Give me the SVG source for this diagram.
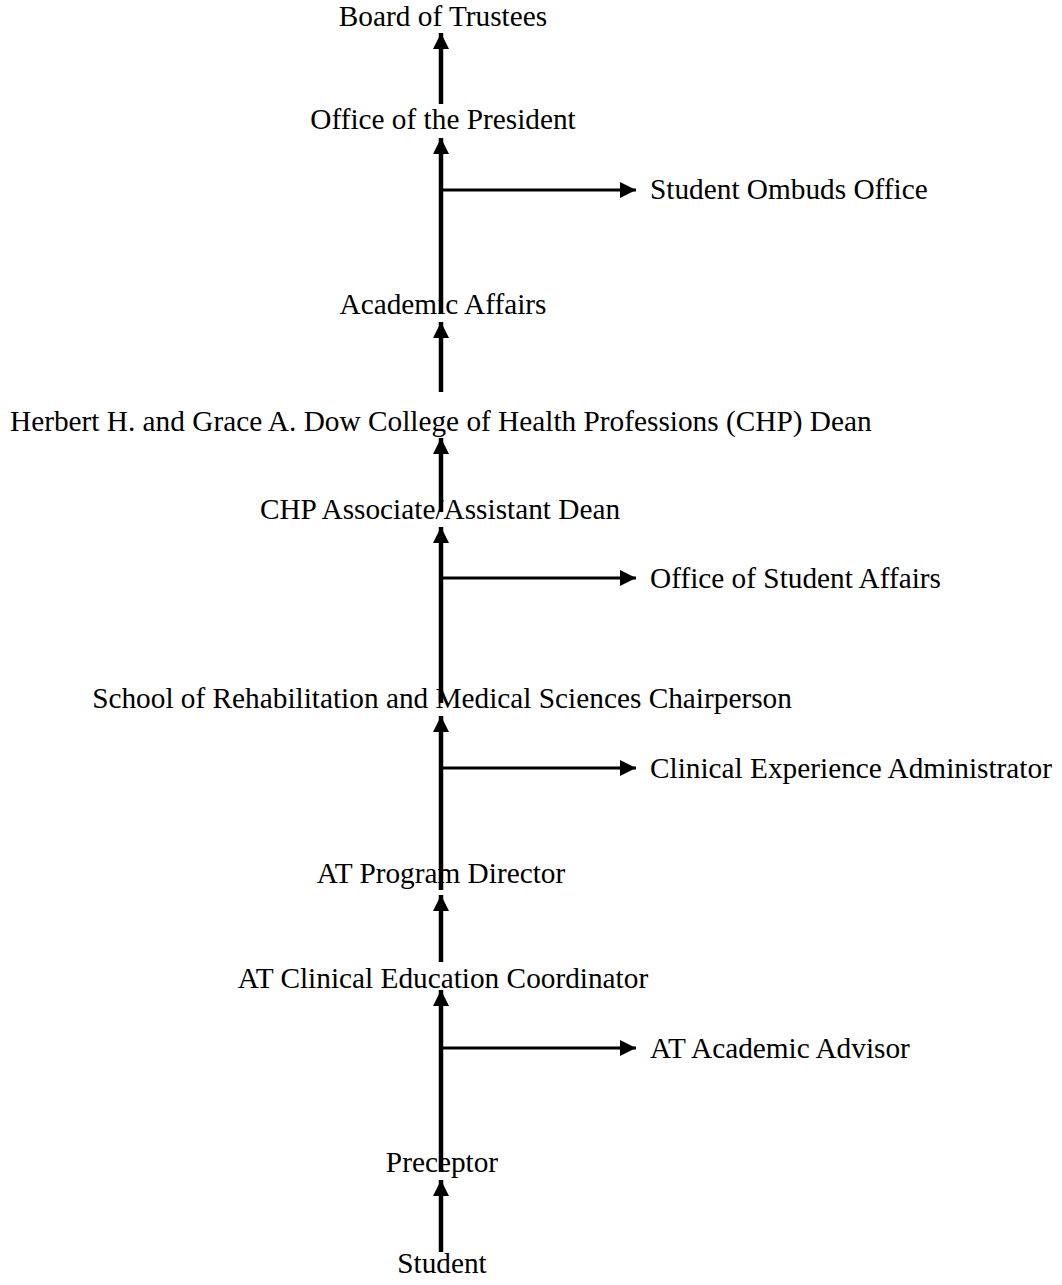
<svg xmlns="http://www.w3.org/2000/svg" width="1062" height="1285" viewBox="0 0 1062 1285">
<defs>
<style>
text{font-family:"Liberation Serif","Times New Roman",serif;font-size:29.3px;fill:#000}
.c{text-anchor:middle}
.v{stroke:#000;stroke-width:4.5;fill:none}
.h{stroke:#000;stroke-width:3;fill:none}
</style>
<marker id="au" markerUnits="userSpaceOnUse" markerWidth="16" markerHeight="16" viewBox="0 0 16 16" refX="16" refY="8" orient="auto">
<path d="M0,0 L16,8 L0,16 Z" fill="#000"/>
</marker>
</defs>
<rect width="1062" height="1285" fill="#fff"/>
<g id="connectors">
<line class="v" x1="441" y1="104" x2="441" y2="33" marker-end="url(#au)"/>
<line class="v" x1="441" y1="313" x2="441" y2="138" marker-end="url(#au)"/>
<line class="v" x1="441" y1="392" x2="441" y2="322" marker-end="url(#au)"/>
<line class="v" x1="441" y1="512" x2="441" y2="438" marker-end="url(#au)"/>
<line class="v" x1="441" y1="703" x2="441" y2="527" marker-end="url(#au)"/>
<line class="v" x1="441" y1="890" x2="441" y2="716" marker-end="url(#au)"/>
<line class="v" x1="441" y1="962" x2="441" y2="895" marker-end="url(#au)"/>
<line class="v" x1="441" y1="1172" x2="441" y2="990" marker-end="url(#au)"/>
<line class="v" x1="441" y1="1252" x2="441" y2="1180" marker-end="url(#au)"/>
<line class="h" x1="441" y1="190" x2="636" y2="190" marker-end="url(#au)"/>
<line class="h" x1="441" y1="578" x2="636" y2="578" marker-end="url(#au)"/>
<line class="h" x1="441" y1="768" x2="636" y2="768" marker-end="url(#au)"/>
<line class="h" x1="441" y1="1048" x2="636" y2="1048" marker-end="url(#au)"/>
</g>
<g id="board"><text class="c" x="443" y="26">Board of Trustees</text></g>
<g id="president"><text class="c" x="443" y="129">Office of the President</text></g>
<g id="ombuds"><text x="650" y="199">Student Ombuds Office</text></g>
<g id="academic"><text class="c" x="443" y="314">Academic Affairs</text></g>
<g id="dean"><text x="10" y="431">Herbert H. and Grace A. Dow College of Health Professions (CHP) Dean</text></g>
<g id="assocdean"><text class="c" x="440" y="519">CHP Associate/Assistant Dean</text></g>
<g id="studentaffairs"><text x="650" y="588">Office of Student Affairs</text></g>
<g id="chair"><text class="c" x="442" y="708">School of Rehabilitation and Medical Sciences Chairperson</text></g>
<g id="clinadmin"><text x="650" y="778">Clinical Experience Administrator</text></g>
<g id="director"><text class="c" x="441" y="883">AT Program Director</text></g>
<g id="coordinator"><text class="c" x="443" y="988">AT Clinical Education Coordinator</text></g>
<g id="advisor"><text x="650" y="1058">AT Academic Advisor</text></g>
<g id="preceptor"><text class="c" x="442" y="1172">Preceptor</text></g>
<g id="student"><text class="c" x="442" y="1273">Student</text></g>
</svg>
